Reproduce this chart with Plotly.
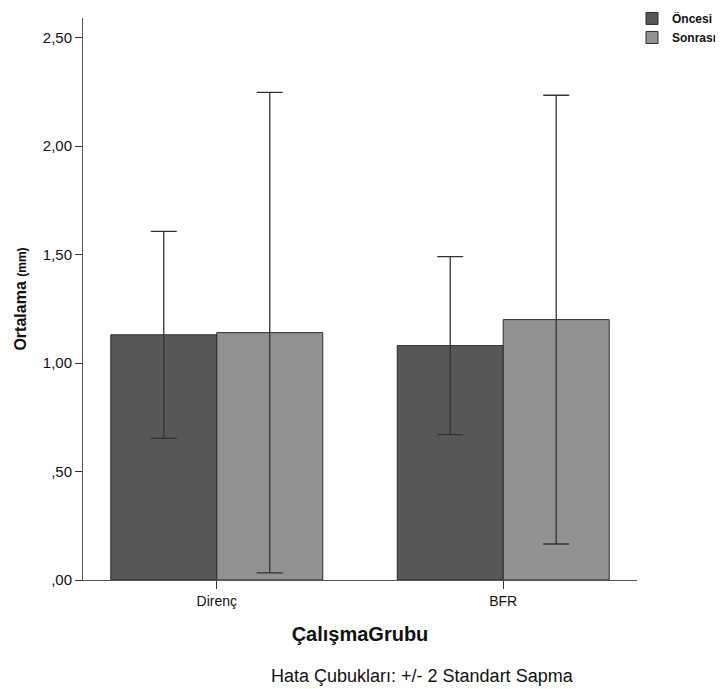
import plotly.graph_objects as go

categories = ["Direnç", "BFR"]
series_names = ["Öncesi", "Sonrası"]
oncesi_mean = [1.13, 1.08]
sonrasi_mean = [1.14, 1.20]
oncesi_err = [0.477, 0.41]
sonrasi_err = [1.107, 1.034]
y_tickvals = [0, 0.5, 1.0, 1.5, 2.0, 2.5]
y_ticktext = [",00", ",50", "1,00", "1,50", "2,00", "2,50"]
colors = ["#575757", "#929292"]

# page body has an 8px margin: figure drawn at (8, 8) in the 723x689 window
W, H = 715, 681
L, T = 75, 10
PW = 554
PH = 562

fig = go.Figure()
for name, means, errs, col in zip(series_names, [oncesi_mean, sonrasi_mean],
                                   [oncesi_err, sonrasi_err], colors):
    fig.add_trace(go.Bar(
        x=categories, y=means, name="<b>" + name + "</b>",
        marker=dict(color=col, line=dict(color="#2b2b2b", width=1)),
        error_y=dict(type="data", array=errs, visible=True,
                     color="#333333", thickness=1.3, width=13),
    ))

fig.update_layout(
    width=W, height=H,
    margin=dict(l=L, r=W - L - PW, t=T, b=H - T - PH, autoexpand=False),
    paper_bgcolor="white", plot_bgcolor="white",
    barmode="group", bargap=0.26, bargroupgap=0,
    font=dict(family="Liberation Sans, Arial, sans-serif", color="#111111"),
    showlegend=True,
    legend=dict(x=0.991, y=1.025, xanchor="left", yanchor="top",
                font=dict(size=12, family="Liberation Sans, Arial", color="#111"),
                itemwidth=30, tracegroupgap=0, bgcolor="rgba(0,0,0,0)"),
    xaxis=dict(
        range=[-0.467, 1.467], showline=True, linecolor="#555", linewidth=1,
        ticks="outside", ticklen=8, tickcolor="#333", tickfont=dict(size=14),
        showgrid=False, zeroline=False, automargin=False,
        title=dict(text="<b>ÇalışmaGrubu</b>", font=dict(size=20), standoff=19),
    ),
    yaxis=dict(
        range=[0, 2.59], showline=True, linecolor="#555", linewidth=1,
        ticks="outside", ticklen=7, tickcolor="#333",
        tickvals=y_tickvals, ticktext=y_ticktext, tickfont=dict(size=15),
        showgrid=False, zeroline=False, automargin=False,
        title=dict(text="<b>Ortalama</b> <span style='font-size:12px'><b>(mm)</b></span>",
                   font=dict(size=16), standoff=12),
    ),
)

fig.add_annotation(text="Hata Çubukları: +/- 2 Standart Sapma",
                   xref="paper", yref="paper", x=(422 - 8 - L) / PW,
                   y=-((676 - 8) - (T + PH)) / PH,
                   xanchor="center", yanchor="middle", showarrow=False,
                   font=dict(size=18, color="#111"))

fig.write_html("out.html")
